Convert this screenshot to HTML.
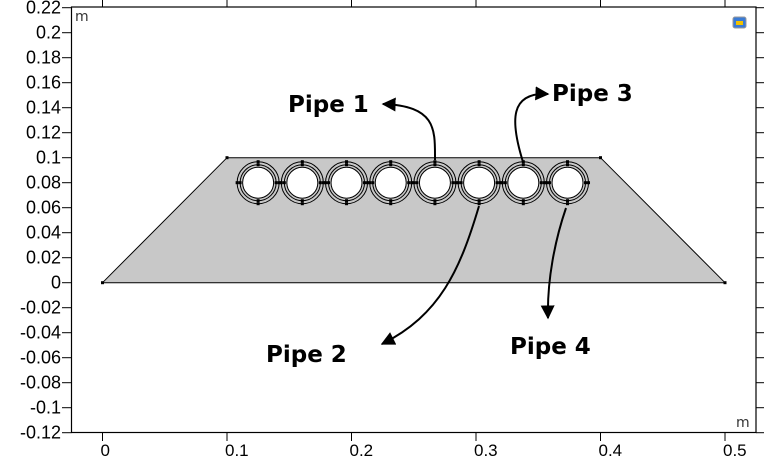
<!DOCTYPE html>
<html><head><meta charset="utf-8"><style>
html,body{margin:0;padding:0;background:#fff;width:764px;height:461px;overflow:hidden}
svg{display:block;font-family:"DejaVu Sans","Liberation Sans",sans-serif}
</style></head><body>
<svg id="c" width="764" height="461" viewBox="0 0 764 461">
<defs><marker id="ah" viewBox="0 0 10 10" refX="9" refY="5" markerWidth="7" markerHeight="7" orient="auto"><path d="M0,0 L10,5 L0,10 z" fill="#000"/></marker></defs>
<g id="g"></g>
</svg>
<script>
const xTicks=[0,0.1,0.2,0.3,0.4,0.5];
const yTicks=[0.22,0.2,0.18,0.16,0.14,0.12,0.1,0.08,0.06,0.04,0.02,0,-0.02,-0.04,-0.06,-0.08,-0.1,-0.12];
const trapX=[0,0.5,0.4,0.1];
const trapY=[0,0,0.1,0.1];
const pipeX=[0.125,0.1605,0.196,0.2315,0.267,0.3025,0.338,0.3735];
const pipeY=[0.08,0.08,0.08,0.08,0.08,0.08,0.08,0.08];
const X=v=>102.5+v*1245;
const Y=v=>282.7-v*1250;
const NS='http://www.w3.org/2000/svg';
const g=document.getElementById('g');
function mk(t,a,txt){const e=document.createElementNS(NS,t);for(const k in a)e.setAttribute(k,a[k]);if(txt!==undefined)e.textContent=txt;g.appendChild(e);return e;}
let e=mk('rect',{x:71.5,y:7,width:684.5,height:425.5,fill:'none',stroke:'#000','stroke-width':1.2});


xTicks.forEach(v=>{
  let t=mk('line',{x1:X(v),x2:X(v),y1:432.5,y2:441,stroke:'#000'});
  
  
  mk('line',{x1:X(v),x2:X(v),y1:0,y2:7,stroke:'#000'});
  let l=mk('text',{x:X(v)-2,y:456,'font-size':17,fill:'#000','font-family':'"Liberation Sans",sans-serif'},String(v));
  
  
});
yTicks.forEach(v=>{
  let t=mk('line',{x1:62,x2:71.5,y1:Y(v),y2:Y(v),stroke:'#000'});
  
  
  mk('line',{x1:756,x2:764,y1:Y(v),y2:Y(v),stroke:'#000'});
  let l=mk('text',{x:61,y:Y(v)+6,'font-size':18,'text-anchor':'end',fill:'#000','font-family':'"Liberation Sans",sans-serif'},String(v));
  
  
});
let m1=mk('text',{x:75,y:21,'font-size':14,fill:'#333'},'m');


let m2=mk('text',{x:736,y:427,'font-size':14,fill:'#333'},'m');


let pts=trapX.map((v,i)=>X(v)+','+Y(trapY[i])).join(' ');
let tr=mk('polygon',{points:pts,fill:'#c8c8c8',stroke:'#000','stroke-width':1});


trapX.forEach((v,i)=>{mk('rect',{x:X(v)-1.5,y:Y(trapY[i])-1.5,width:3,height:3,fill:'#000'});});
pipeX.forEach((v,i)=>{
  const cx=X(v),cy=Y(pipeY[i]);
  let p=mk('circle',{cx,cy,r:21,fill:'#c8c8c8',stroke:'#000','stroke-width':1});
  
  
  mk('circle',{cx,cy,r:18,fill:'#c8c8c8',stroke:'#000','stroke-width':1});
  mk('circle',{cx,cy,r:15.5,fill:'#fff',stroke:'#000','stroke-width':1});
  [[0,-21],[0,-18],[0,18],[0,21],[-21,0],[-18,0],[18,0],[21,0]].forEach(d=>mk('rect',{x:cx+d[0]-1.5,y:cy+d[1]-1.5,width:3,height:3,fill:'#000'}));
});
const arrows=[
 ['M435,160 C435,130 437,106 383,104','Pipe 1',288,112],
 ['M523,162 C510,120 510,92 548,94','Pipe 3',552,101],
 ['M479,206 C460,270 440,315 382,344','Pipe 2',266,362],
 ['M566,208 C555,240 547,280 548,318','Pipe 4',510,354]];
arrows.forEach(a=>{
  let p=mk('path',{d:a[0],fill:'none',stroke:'#000','stroke-width':2,'marker-end':'url(#ah)'});
  
  
  let t=mk('text',{x:a[2],y:a[3],'font-size':23,'font-weight':'bold',fill:'#000'},a[1]);
  
  
});
let ic=mk('rect',{x:733,y:17,width:13,height:11,rx:2,fill:'#3a7bd5',stroke:'#999'});


mk('rect',{x:736,y:21,width:7,height:4,fill:'#f2c200'});
</script>
</body></html>
